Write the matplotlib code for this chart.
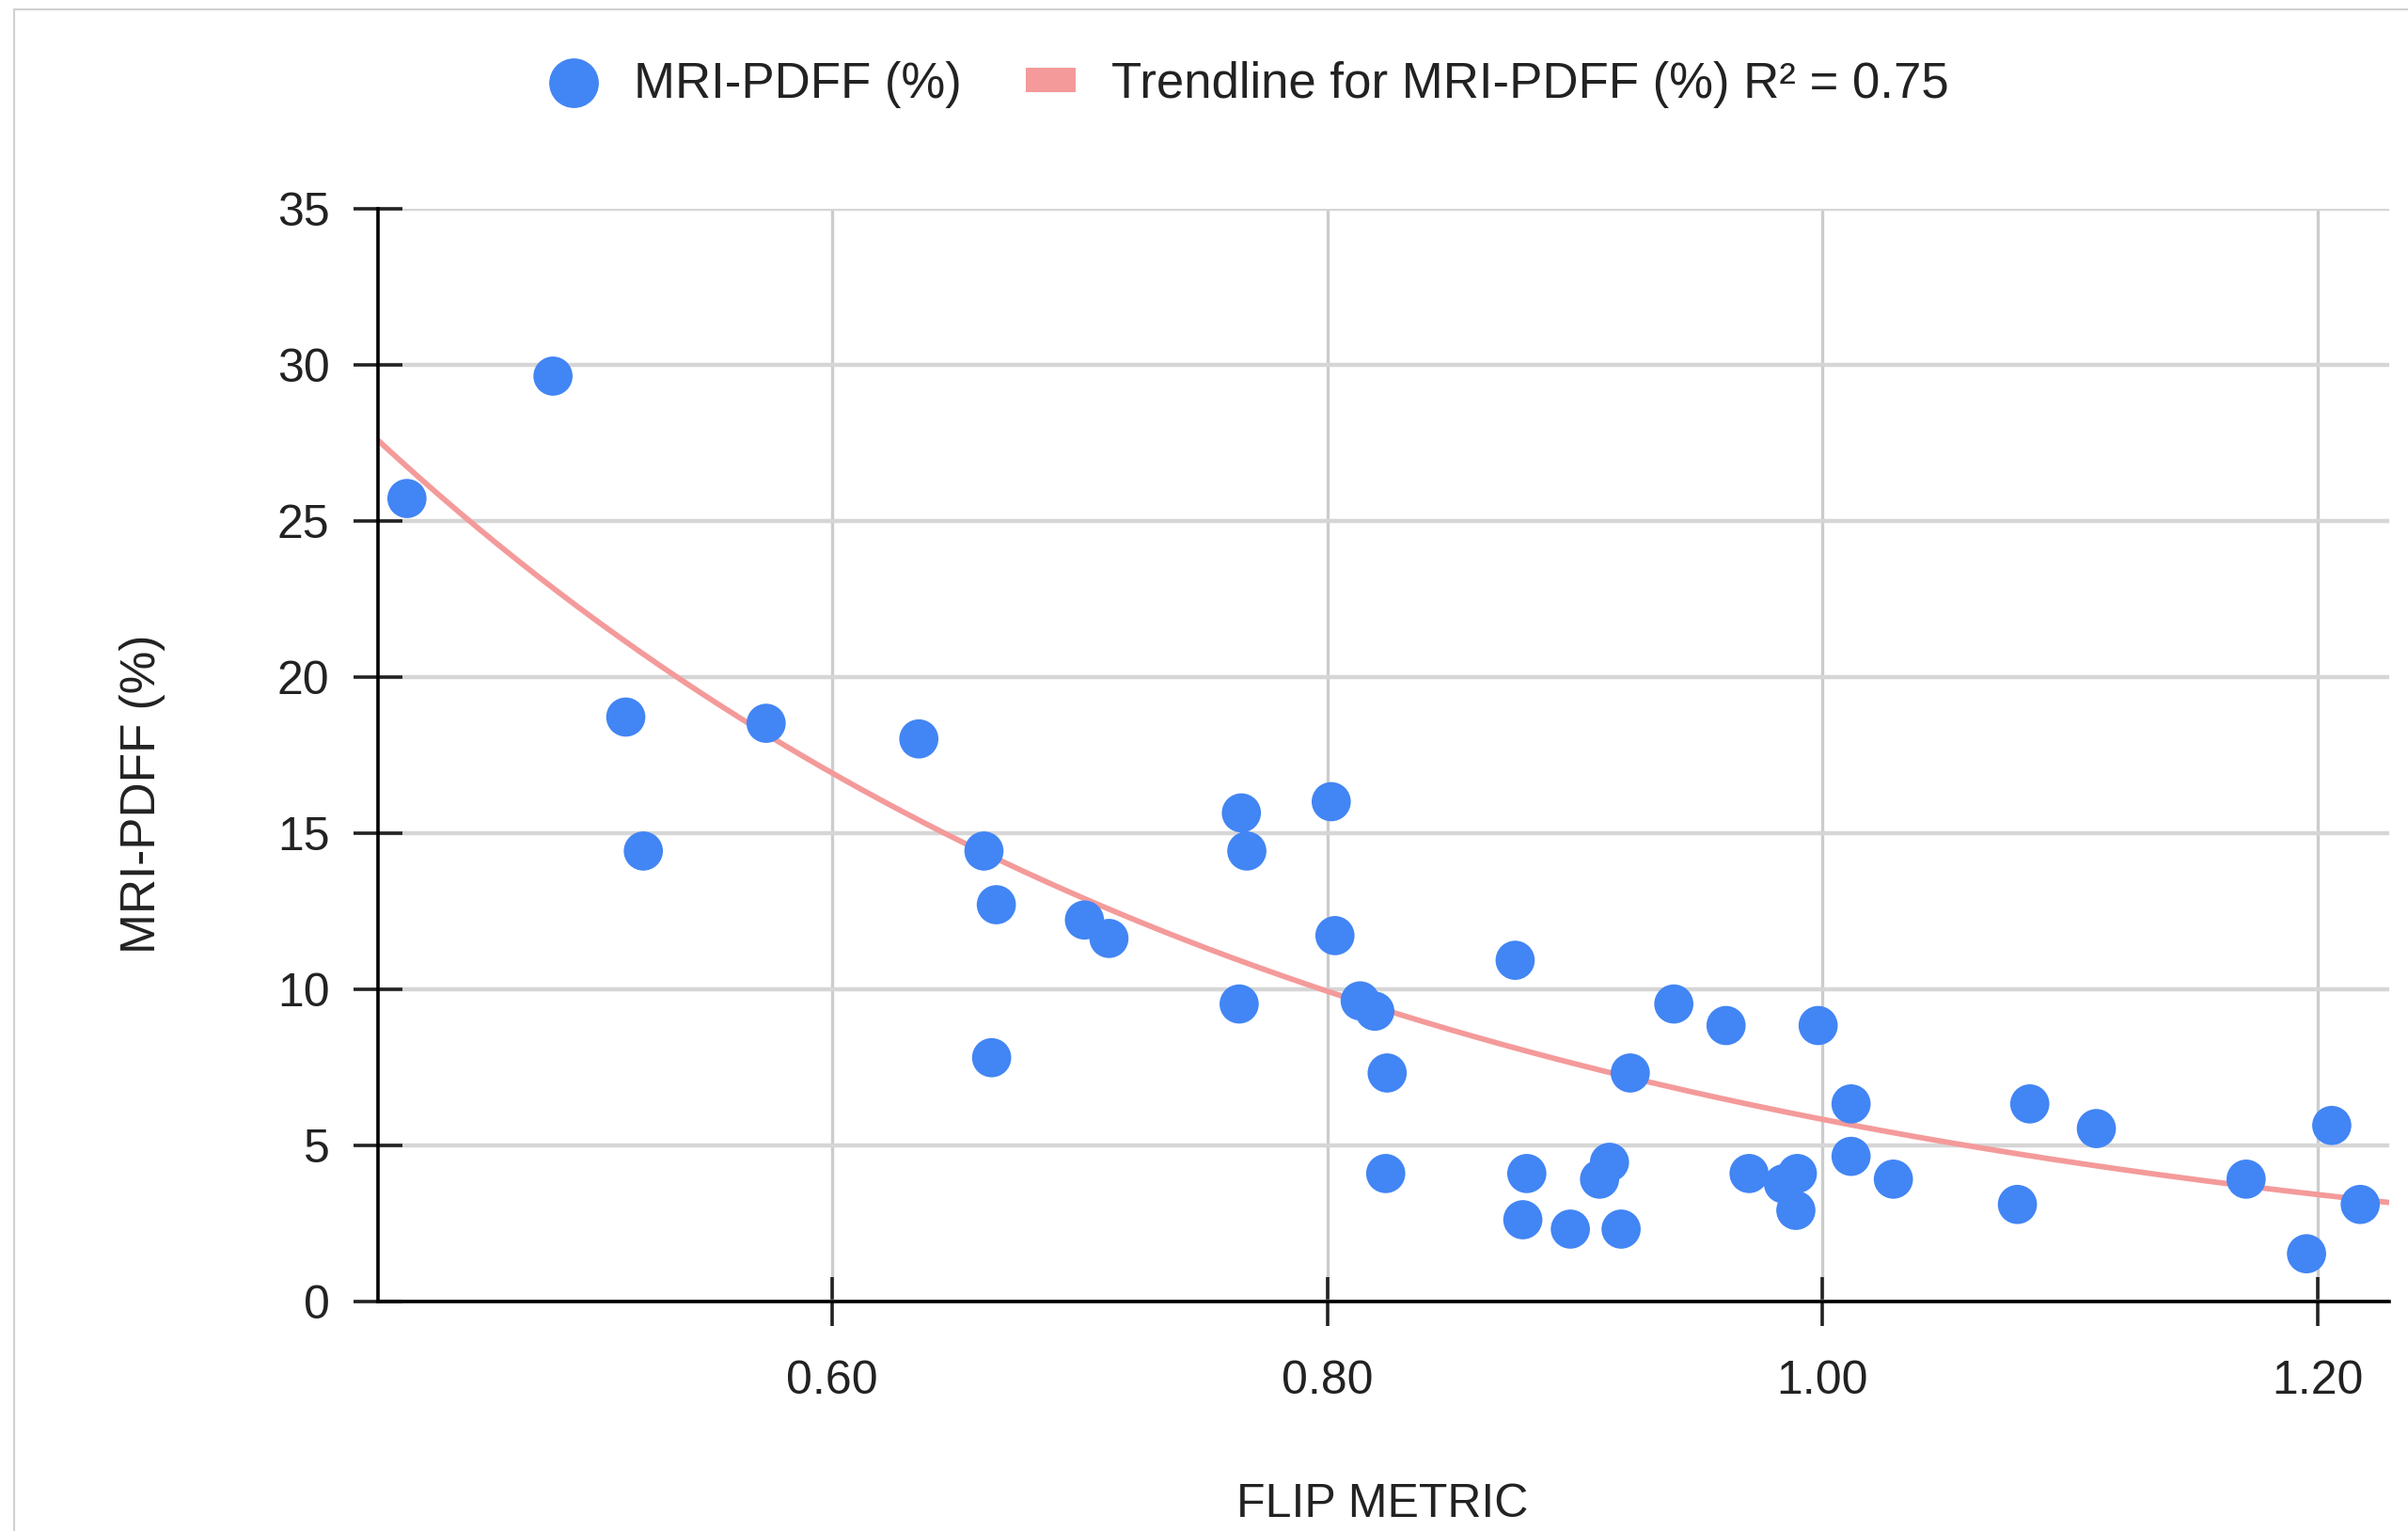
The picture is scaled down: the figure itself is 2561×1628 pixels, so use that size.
import numpy as np
import matplotlib
matplotlib.use('Agg')
import matplotlib.pyplot as plt
from matplotlib.lines import Line2D
from matplotlib.patches import Rectangle

plt.rcParams['font.family'] = ['Liberation Sans', 'DejaVu Sans']

# FLIP metric vs MRI-PDFF (%)
flip = [0.4282, 0.4872, 0.5166, 0.5237, 0.5733, 0.6350, 0.6613, 0.6663, 0.6644,
        0.7019, 0.7118, 0.7653, 0.7675, 0.7644, 0.8016, 0.8031, 0.8133, 0.8192,
        0.8242, 0.8236, 0.8759, 0.8806, 0.8790, 0.8982, 0.9100, 0.9140, 0.9187,
        0.9224, 0.9400, 0.9611, 0.9704, 0.9843, 0.9899, 0.9893, 0.9983, 1.0116,
        1.0116, 1.0287, 1.0788, 1.0838, 1.1107, 1.1712, 1.1956, 1.2058, 1.2173]
pdff = [25.72, 29.64, 18.72, 14.43, 18.52, 18.02, 14.43, 12.71, 7.81,
        12.22, 11.63, 15.65, 14.43, 9.53, 16.01, 11.72, 9.63, 9.30,
        7.32, 4.10, 10.93, 4.10, 2.62, 2.32, 3.92, 4.46, 2.32,
        7.32, 9.53, 8.84, 4.10, 3.77, 4.10, 2.92, 8.84, 6.33,
        4.65, 3.92, 3.11, 6.33, 5.54, 3.92, 1.53, 5.64, 3.11]

# exponential trendline y = a * exp(b * x), coefficients
trend_a = 83.6
trend_b = -2.662

x_ticks = [0.60, 0.80, 1.00, 1.20]
x_tick_labels = ['0.60', '0.80', '1.00', '1.20']
y_ticks = [0, 5, 10, 15, 20, 25, 30, 35]

series_label = 'MRI-PDFF (%)'
trend_label = 'Trendline for MRI-PDFF (%) R² = 0.75'

BLUE = '#4285F4'
TREND = '#F49A9A'

W, H = 2561, 1628
fig = plt.figure(figsize=(W / 100, H / 100), dpi=100)

# outer chart frame (only top/left edges visible in the crop)
fig.patches.append(Rectangle((15 / W, -0.1), 1.2, 1.1 - 10 / H, transform=fig.transFigure,
                             fill=False, edgecolor='#d0d0d0', linewidth=1.5))

ax = fig.add_axes([402 / W, 1 - 1384 / H, (2541 - 402) / W, (1384 - 222) / H])

xlim = (0.4165, 1.229)
xs = np.linspace(xlim[0], xlim[1], 300)
ax.plot(xs, trend_a * np.exp(trend_b * xs), color=TREND, linewidth=4.2, zorder=3,
        solid_capstyle='butt')

ax.scatter(flip, pdff, s=30 ** 2, color=BLUE, edgecolors='none', zorder=4)

ax.set_xlim(*xlim)
ax.set_ylim(0, 35)
ax.set_xticks(x_ticks)
ax.set_xticklabels(x_tick_labels)
ax.set_yticks(y_ticks)

ax.grid(True, axis='y', color='#d6d6d6', linewidth=3.2, zorder=0)
ax.grid(True, axis='x', color='#cccccc', linewidth=2.4, zorder=0)
ax.set_axisbelow(True)

for s in ['top', 'right']:
    ax.spines[s].set_visible(False)
for s in ['left', 'bottom']:
    ax.spines[s].set_color('black')
    ax.spines[s].set_linewidth(2.6)
    ax.spines[s].set_zorder(5)

ax.tick_params(axis='both', direction='inout', length=38, width=2.6, color='#222222',
               labelsize=36, labelcolor='#222222')
ax.tick_params(axis='x', pad=26)
ax.tick_params(axis='y', pad=18)

fig.text(1470 / W, 1 - 1600 / H, 'FLIP METRIC', ha='center', va='center',
         fontsize=36, color='#222222')
fig.text(152 / W, 1 - 844 / H, 'MRI-PDFF (%)', ha='center', va='center',
         rotation=90, fontsize=37, color='#222222')

handles = [
    Line2D([], [], linestyle='none', marker='o', markersize=38, markerfacecolor=BLUE,
           markeredgecolor='none', label=series_label),
    Rectangle((0, 0), 1, 1, facecolor=TREND, edgecolor='none', label=trend_label),
]
leg = fig.legend(handles=handles, loc='center', bbox_to_anchor=(1328 / W, 1 - 90 / H),
                 ncol=2, frameon=False, fontsize=38, handlelength=1.0, handleheight=0.38,
                 handletextpad=0.72, columnspacing=1.3, borderpad=0)
for t in leg.get_texts():
    t.set_color('#222222')

fig.savefig('out.png', dpi=100)
